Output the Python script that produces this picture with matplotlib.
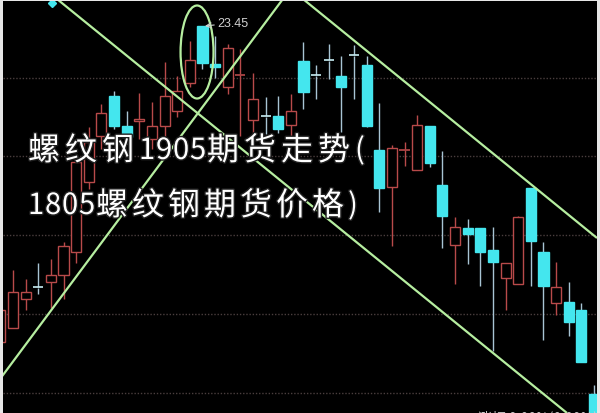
import numpy as np
import matplotlib.pyplot as plt
from matplotlib.patches import Ellipse
import matplotlib.patheffects as pe

plt.rcParams['font.family'] = ['Noto Sans CJK SC', 'DejaVu Sans']

# daily candles (price)
opens = [21.87, 21.94, 22.085, 22.145, 22.17, 22.205, 22.32, 22.67, 22.90, 23.10,
         22.95, 22.975, 22.885, 22.95, 23.025, 23.165, 23.45, 23.26, 23.145, 23.205,
         22.98, 23.00, 23.00, 22.955, 23.275, 23.205, 23.28, 23.20, 23.305, 23.255,
         22.83, 22.645, 22.83, 22.73, 22.95, 22.655, 22.355, 22.44, 22.44, 22.33,
         22.19, 22.16, 22.64, 22.32, 22.065, 22.07, 22.03, 21.61]
highs = [22.085, 22.23, 22.185, 22.265, 22.285, 22.37, 22.795, 22.945, 23.06, 23.125,
         23.025, 23.115, 23.07, 23.27, 23.20, 23.375, 23.45, 23.40, 23.36, 23.335,
         23.215, 23.095, 23.10, 23.11, 23.37, 23.255, 23.36, 23.30, 23.355, 23.30,
         23.065, 22.855, 22.87, 23.005, 22.95, 22.825, 22.495, 22.485, 22.44, 22.445,
         22.265, 22.50, 22.64, 22.37, 22.27, 22.17, 22.065, 21.655]
lows = [21.835, 21.94, 22.03, 22.11, 22.04, 22.085, 22.265, 22.635, 22.835, 22.935,
        22.86, 22.885, 22.835, 22.885, 22.995, 23.145, 23.235, 23.19, 23.11, 22.90,
        22.90, 22.91, 22.915, 22.90, 23.035, 23.085, 23.185, 22.92, 23.085, 22.945,
        22.52, 22.35, 22.75, 22.73, 22.745, 22.34, 22.16, 22.26, 22.15, 21.825,
        22.03, 22.16, 22.15, 21.88, 22.005, 21.90, 21.77, 21.485]
closes = [22.03, 22.12, 22.12, 22.14, 22.205, 22.35, 22.77, 22.87, 23.015, 22.95,
          22.895, 22.985, 22.95, 23.10, 23.125, 23.28, 23.265, 23.245, 23.34, 23.21,
          23.085, 22.995, 22.935, 23.025, 23.12, 23.20, 23.275, 23.145, 23.30, 22.95,
          22.64, 22.84, 22.835, 22.955, 22.765, 22.50, 22.445, 22.41, 22.32, 22.27,
          22.265, 22.495, 22.375, 22.15, 22.145, 21.97, 21.77, 21.485]

grid_levels = [23.19, 22.80, 22.405, 22.01, 21.615]

# hand drawn trend lines and the circled peak
trend_x = [[4.48, 44.86], [-0.03, 22.37], [23.96, 47.24]]
trend_y = [[23.585, 21.515], [21.685, 23.585], [23.585, 22.39]]
circle_center = (15.57, 23.32)
circle_size = (2.61, 0.465)
peak_idx = 16
peak_label = '23.45'
marker_pos = (4.09, 23.565)

title_lines = ['螺纹钢1905期货走势(', '1805螺纹钢期货价格)']
footer = '涨幅 0.00%(0.00%)'

RED = '#b84a4a'
CYAN = '#44e6ee'
GREEN = '#b6eea0'

fig = plt.figure(figsize=(6, 4.14), dpi=100, facecolor='#e6e6e6')
ax = fig.add_axes([3 / 600, 0, 594 / 600, 412 / 414])
ax.set_facecolor('black')
ax.set_xlim(0.206, 47.24)
ax.set_ylim(21.515, 23.575)
ax.set_xticks([])
ax.set_yticks([])
for s in ax.spines.values():
    s.set_visible(False)

for g in grid_levels:
    ax.axhline(g, color='#4a3e3e', lw=1.0, ls=(0, (1, 1.3)), zorder=1)

o = np.array(opens)
h = np.array(highs)
l = np.array(lows)
c = np.array(closes)
x = np.arange(len(o))
up = c >= o
doji = np.abs(c - o) < 0.006
top = np.maximum(o, c)
bot = np.minimum(o, c)

# wicks
wcol = np.where(up, RED, '#a8c4d4')
ax.vlines(x, top, h, colors=wcol, lw=1, zorder=2)
ax.vlines(x, l, bot, colors=wcol, lw=1, zorder=2)

w = 0.8
body = ~doji
ax.bar(x[body & up], (top - bot)[body & up], bottom=bot[body & up], width=w,
       facecolor='black', edgecolor=RED, lw=1, zorder=3)
ax.bar(x[body & ~up], (top - bot)[body & ~up], bottom=bot[body & ~up], width=w,
       facecolor=CYAN, edgecolor=CYAN, lw=1, zorder=3)
ax.hlines(o[doji & up], x[doji & up] - w / 2, x[doji & up] + w / 2, colors=RED, lw=1.2, zorder=3)
ax.hlines(o[doji & ~up], x[doji & ~up] - w / 2, x[doji & ~up] + w / 2, colors='#c8eef4', lw=1.2, zorder=3)

for tx, ty in zip(trend_x, trend_y):
    ax.plot(tx, ty, color=GREEN, lw=1.6, zorder=5, solid_capstyle='butt')
ax.add_patch(Ellipse(circle_center, circle_size[0], circle_size[1], fill=False,
                     edgecolor=GREEN, lw=1.6, zorder=5))

ax.plot(*marker_pos, marker='D', ms=4, color=CYAN, zorder=4)

ax.annotate(peak_label, xy=(peak_idx + 0.2, highs[peak_idx]), xytext=(17.15, 23.465),
            color='#d0d0d0', fontsize=9, family='Liberation Sans', va='center', ha='left',
            arrowprops=dict(arrowstyle='->', color='#d0d0d0', lw=0.8, shrinkA=0, shrinkB=0),
            zorder=6)

# watermark cut off at the bottom edge
fig.text(478 / 600, -4 / 414, footer, color='#cfcfcf', fontsize=10, ha='left', va='center')

# title, placed character by character to get the wide spacing
starts = [(28, 152, 37, 17), (28, 207, 36, 17)]
for line, (x0, y0, cjk_adv, asc_adv) in zip(title_lines, starts):
    px = x0
    for ch in line:
        fs = 23 if ord(ch) > 127 else 21
        fig.text(px / 600, 1 - y0 / 414, ch, color='white', fontsize=fs, ha='left', va='center',
                 path_effects=[pe.withStroke(linewidth=2, foreground='#202020')], zorder=10)
        px += cjk_adv if ord(ch) > 127 else asc_adv

fig.savefig('out.png', dpi=100, facecolor=fig.get_facecolor())
